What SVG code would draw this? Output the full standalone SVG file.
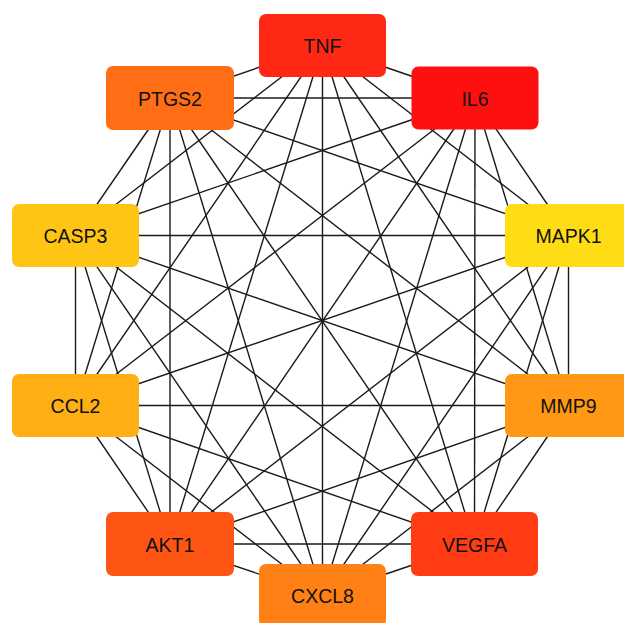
<svg xmlns="http://www.w3.org/2000/svg" width="624" height="623" viewBox="0 0 624 623">
<style>
.e line{stroke:#1a1a1a;stroke-width:1.4}
.n rect{rx:7;ry:7}
.n text{font-family:"Liberation Sans",Arial,sans-serif;font-size:19.5px;fill:#111;text-anchor:middle}
</style>
<rect width="624" height="623" fill="#fff"/>
<g id="edges" class="e">
<line x1="322.5" y1="45.5" x2="475" y2="98"/>
<line x1="322.5" y1="45.5" x2="170" y2="98"/>
<line x1="322.5" y1="45.5" x2="75.5" y2="235.5"/>
<line x1="322.5" y1="45.5" x2="568.5" y2="235.5"/>
<line x1="322.5" y1="45.5" x2="75.5" y2="405.5"/>
<line x1="322.5" y1="45.5" x2="568.5" y2="405.5"/>
<line x1="322.5" y1="45.5" x2="170" y2="544"/>
<line x1="322.5" y1="45.5" x2="474.5" y2="544"/>
<line x1="322.5" y1="45.5" x2="322.5" y2="595.5"/>
<line x1="475" y1="98" x2="170" y2="98"/>
<line x1="475" y1="98" x2="75.5" y2="235.5"/>
<line x1="475" y1="98" x2="568.5" y2="235.5"/>
<line x1="475" y1="98" x2="75.5" y2="405.5"/>
<line x1="475" y1="98" x2="568.5" y2="405.5"/>
<line x1="475" y1="98" x2="170" y2="544"/>
<line x1="475" y1="98" x2="474.5" y2="544"/>
<line x1="475" y1="98" x2="322.5" y2="595.5"/>
<line x1="170" y1="98" x2="75.5" y2="235.5"/>
<line x1="170" y1="98" x2="568.5" y2="235.5"/>
<line x1="170" y1="98" x2="75.5" y2="405.5"/>
<line x1="170" y1="98" x2="568.5" y2="405.5"/>
<line x1="170" y1="98" x2="170" y2="544"/>
<line x1="170" y1="98" x2="474.5" y2="544"/>
<line x1="170" y1="98" x2="322.5" y2="595.5"/>
<line x1="75.5" y1="235.5" x2="568.5" y2="235.5"/>
<line x1="75.5" y1="235.5" x2="75.5" y2="405.5"/>
<line x1="75.5" y1="235.5" x2="568.5" y2="405.5"/>
<line x1="75.5" y1="235.5" x2="170" y2="544"/>
<line x1="75.5" y1="235.5" x2="474.5" y2="544"/>
<line x1="75.5" y1="235.5" x2="322.5" y2="595.5"/>
<line x1="568.5" y1="235.5" x2="75.5" y2="405.5"/>
<line x1="568.5" y1="235.5" x2="568.5" y2="405.5"/>
<line x1="568.5" y1="235.5" x2="170" y2="544"/>
<line x1="568.5" y1="235.5" x2="474.5" y2="544"/>
<line x1="568.5" y1="235.5" x2="322.5" y2="595.5"/>
<line x1="75.5" y1="405.5" x2="568.5" y2="405.5"/>
<line x1="75.5" y1="405.5" x2="170" y2="544"/>
<line x1="75.5" y1="405.5" x2="474.5" y2="544"/>
<line x1="75.5" y1="405.5" x2="322.5" y2="595.5"/>
<line x1="568.5" y1="405.5" x2="170" y2="544"/>
<line x1="568.5" y1="405.5" x2="474.5" y2="544"/>
<line x1="568.5" y1="405.5" x2="322.5" y2="595.5"/>
<line x1="170" y1="544" x2="474.5" y2="544"/>
<line x1="170" y1="544" x2="322.5" y2="595.5"/>
<line x1="474.5" y1="544" x2="322.5" y2="595.5"/>
</g>
<g id="TNF" class="n"><rect x="259" y="14" width="127" height="63" fill="#ff2814"/><text x="322.5" y="53">TNF</text></g>
<g id="IL6" class="n"><rect x="411.5" y="66.5" width="127" height="63" fill="#ff1010"/><text x="475" y="105.5">IL6</text></g>
<g id="PTGS2" class="n"><rect x="106" y="66" width="128" height="64" fill="#ff6e14"/><text x="170" y="105.5">PTGS2</text></g>
<g id="CASP3" class="n"><rect x="12" y="204" width="127" height="63" fill="#ffc514"/><text x="75.5" y="243">CASP3</text></g>
<g id="MAPK1" class="n"><rect x="505" y="204" width="127" height="63" fill="#ffdd14"/><text x="568.5" y="243">MAPK1</text></g>
<g id="CCL2" class="n"><rect x="12" y="374" width="127" height="63" fill="#ffae14"/><text x="75.5" y="413">CCL2</text></g>
<g id="MMP9" class="n"><rect x="505" y="374" width="127" height="63" fill="#ff9814"/><text x="568.5" y="413">MMP9</text></g>
<g id="AKT1" class="n"><rect x="106" y="512" width="128" height="64" fill="#ff5514"/><text x="170" y="551.5">AKT1</text></g>
<g id="VEGFA" class="n"><rect x="411" y="512" width="127" height="64" fill="#ff3c14"/><text x="474.5" y="551.5">VEGFA</text></g>
<g id="CXCL8" class="n"><rect x="259" y="564" width="127" height="63" fill="#ff8014"/><text x="322.5" y="603">CXCL8</text></g>
</svg>
